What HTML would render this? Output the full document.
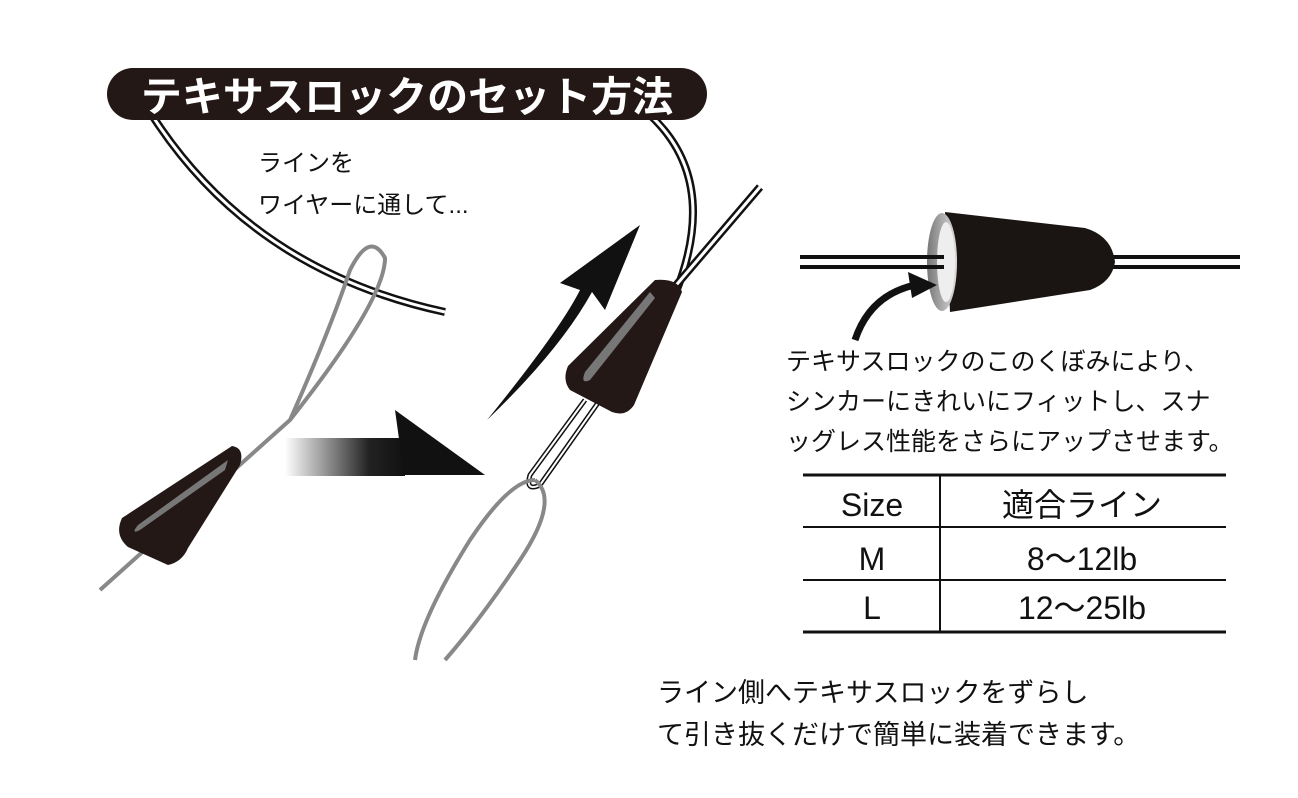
<!DOCTYPE html>
<html><head><meta charset="utf-8"><style>
html,body{margin:0;padding:0;background:#fff;}
svg{display:block;}
text{font-family:"Liberation Sans","Noto Sans CJK JP",sans-serif;}
</style></head><body>
<svg width="1298" height="798" viewBox="0 0 1298 798" xmlns="http://www.w3.org/2000/svg">
<defs>
<linearGradient id="g1" x1="0" x2="1" y1="0" y2="0">
<stop offset="0" stop-color="#fff"/><stop offset="0.7" stop-color="#222"/><stop offset="1" stop-color="#111"/>
</linearGradient>
<linearGradient id="rim" x1="0" x2="1"><stop offset="0" stop-color="#777"/><stop offset="1" stop-color="#ddd"/></linearGradient>
</defs>
<!-- wires -->
<path d="M150,112 Q250,270 445,312" fill="none" stroke="#111" stroke-width="8"/>
<path d="M150,112 Q250,270 445,312" fill="none" stroke="#fff" stroke-width="3"/>
<path d="M650,115 Q720,180 676,292" fill="none" stroke="#111" stroke-width="8"/>
<path d="M650,115 Q720,180 676,292" fill="none" stroke="#fff" stroke-width="3"/>
<path d="M672,290 L760,187" fill="none" stroke="#111" stroke-width="8"/>
<path d="M672,290 L760,187" fill="none" stroke="#fff" stroke-width="3"/>
<!-- title -->
<rect x="107" y="68" width="600" height="52" rx="26" fill="#231815"/>
<text x="407" y="111" text-anchor="middle" font-size="41" font-weight="bold" fill="#fff">テキサスロックのセット方法</text>
<text x="258" y="171" font-size="24" fill="#111">ラインを</text>
<text x="258" y="213" font-size="24" fill="#111">ワイヤーに通して...</text>
<!-- left loop -->
<path d="M290,420 Q330,330 350,270 Q370,230 385,258 Q385,300 290,420 L100,590" fill="none" stroke="#888" stroke-width="4"/>
<path d="M232,446 L122,518 Q114,535 128,547 L168,565 Q182,562 188,548 L240,465 Q245,448 232,446Z" fill="#231815"/>
<path d="M228,460 L138,525 Q130,535 140,530 L225,470Z" fill="#777"/>
<!-- right arrow -->
<rect x="285" y="438" width="120" height="38" fill="url(#g1)"/>
<polygon points="395,410 485,475 404,475" fill="#111"/>
<!-- swoosh -->
<path d="M487,420 Q560,330 580,290 L560,283 L640,225 L605,310 L592,292 Q560,350 487,420Z" fill="#111"/>
<!-- right sinker with loops -->
<path d="M585,400 L530,475 Q525,492 540,485 L600,400" fill="none" stroke="#111" stroke-width="5"/>
<path d="M585,400 L530,475 Q525,492 540,485 L600,400" fill="none" stroke="#fff" stroke-width="2"/>
<path d="M535,480 Q510,480 470,540 Q420,620 415,660 M535,480 Q560,500 520,560 Q480,620 445,660" fill="none" stroke="#888" stroke-width="4"/>
<path d="M655,280 Q678,278 682,292 L634,405 Q626,417 612,412 L570,390 Q562,380 568,366Z" fill="#231815"/>
<path d="M650,292 L585,372 Q580,385 590,380 L655,298Z" fill="#777"/>
<!-- right diagram -->
<line x1="800" y1="257" x2="1240" y2="257" stroke="#111" stroke-width="4"/>
<line x1="800" y1="267" x2="1240" y2="267" stroke="#111" stroke-width="4"/>
<path d="M945,212 L1085,228 Q1112,236 1115,262 Q1112,282 1090,290 L950,312Z" fill="#1a1412"/>
<ellipse cx="942" cy="262" rx="15" ry="49" fill="url(#rim)"/>
<ellipse cx="946" cy="262" rx="9" ry="40" fill="#eee"/>
<line x1="800" y1="257" x2="944" y2="257" stroke="#111" stroke-width="4"/>
<line x1="800" y1="267" x2="944" y2="267" stroke="#111" stroke-width="4"/>
<path d="M855,340 Q870,295 915,285" fill="none" stroke="#111" stroke-width="7"/>
<polygon points="937,285 908,272 912,298" fill="#111"/>
<text x="786" y="370" font-size="25" fill="#111">テキサスロックのこのくぼみにより、</text>
<text x="786" y="410" font-size="25" fill="#111">シンカーにきれいにフィットし、スナ</text>
<text x="786" y="450" font-size="25" fill="#111">ッグレス性能をさらにアップさせます。</text>
<!-- table -->
<line x1="803" y1="475" x2="1226" y2="475" stroke="#111" stroke-width="3"/>
<line x1="803" y1="527" x2="1226" y2="527" stroke="#111" stroke-width="2"/>
<line x1="803" y1="580" x2="1226" y2="580" stroke="#111" stroke-width="2"/>
<line x1="803" y1="632" x2="1226" y2="632" stroke="#111" stroke-width="3"/>
<line x1="940" y1="475" x2="940" y2="632" stroke="#111" stroke-width="2"/>
<text x="872" y="516" text-anchor="middle" font-size="32" fill="#111">Size</text>
<text x="1082" y="516" text-anchor="middle" font-size="32" fill="#111">適合ライン</text>
<text x="872" y="570" text-anchor="middle" font-size="32" fill="#111">M</text>
<text x="1082" y="570" text-anchor="middle" font-size="32" fill="#111">8～12lb</text>
<text x="872" y="619" text-anchor="middle" font-size="32" fill="#111">L</text>
<text x="1082" y="619" text-anchor="middle" font-size="32" fill="#111">12～25lb</text>
<text x="657" y="702" font-size="27" fill="#111">ライン側へテキサスロックをずらし</text>
<text x="657" y="744" font-size="27" fill="#111">て引き抜くだけで簡単に装着できます。</text>
</svg>
</body></html>
